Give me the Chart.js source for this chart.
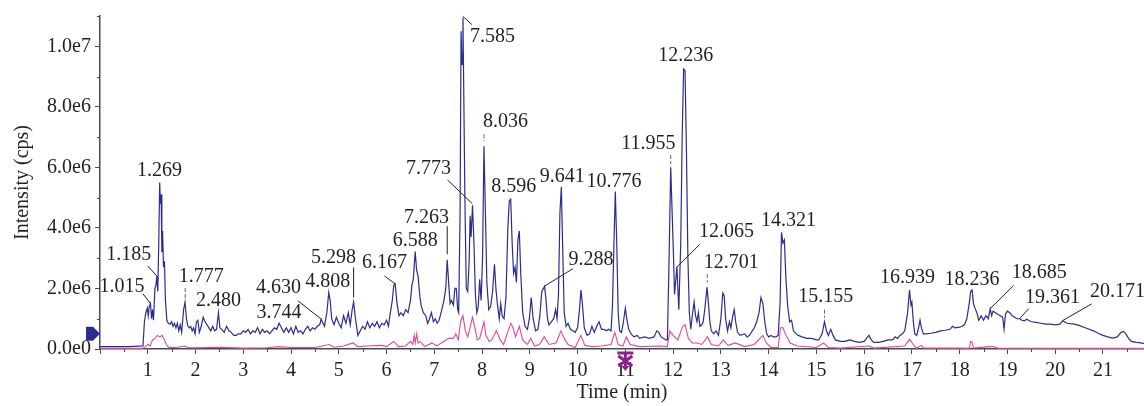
<!DOCTYPE html>
<html><head><meta charset="utf-8">
<script src="https://cdn.jsdelivr.net/npm/chart.js@4.4.0/dist/chart.umd.min.js"></script>
<style>html,body{margin:0;padding:0;background:#fff;}#wrap{width:1144px;height:406px;}</style>
</head><body><div id="wrap"><canvas id="c" width="1144" height="406"></canvas></div>
<script>
// ---- data (time in min, intensity in 1e6 cps) ----
const ticTrace = [
[0,0.08],[0.3,0.08],[0.6,0.08],[0.9,0.1],[0.93,0.9],[0.96,1.2],[0.99,1.35],[1.01,1.1],[1.03,1.4],[1.057,1.5],[1.08,1.0],[1.1,1.3],[1.12,0.95],[1.15,2.0],[1.17,2.1],[1.19,2.41],[1.21,1.9],[1.23,3.5],[1.25,5.5],[1.265,4.8],[1.28,5.1],[1.295,3.2],[1.31,3.9],[1.33,2.7],[1.35,2.9],[1.37,1.6],[1.4,0.95],[1.43,0.85],[1.47,0.82],[1.5,0.9],[1.53,0.75],[1.56,0.85],[1.59,0.7],[1.62,0.85],[1.65,0.6],[1.68,0.8],[1.71,0.55],[1.75,1.3],[1.78,1.55],[1.81,1.0],[1.84,0.75],[1.87,0.7],[1.9,0.75],[1.93,0.6],[1.96,0.7],[1.99,0.5],[2.02,0.9],[2.05,0.95],[2.08,0.55],[2.12,0.75],[2.16,1.05],[2.2,0.9],[2.24,0.8],[2.28,0.7],[2.32,0.6],[2.36,0.75],[2.4,0.6],[2.44,0.65],[2.48,1.2],[2.51,0.7],[2.55,0.65],[2.6,0.55],[2.65,0.75],[2.7,0.6],[2.75,0.55],[2.8,0.45],[2.85,0.45],[2.9,0.5],[2.95,0.5],[3.0,0.6],[3.05,0.55],[3.1,0.65],[3.15,0.5],[3.2,0.6],[3.25,0.55],[3.3,0.7],[3.35,0.5],[3.4,0.65],[3.45,0.55],[3.5,0.6],[3.55,0.5],[3.6,0.6],[3.65,0.7],[3.7,0.65],[3.75,0.85],[3.8,0.7],[3.85,0.55],[3.9,0.7],[3.95,0.55],[4.0,0.7],[4.05,0.5],[4.1,0.75],[4.15,0.55],[4.2,0.6],[4.25,0.5],[4.3,0.65],[4.35,0.75],[4.4,0.6],[4.45,0.7],[4.5,0.65],[4.55,0.75],[4.6,0.8],[4.63,0.98],[4.7,0.75],[4.75,1.2],[4.79,1.87],[4.82,1.6],[4.85,1.0],[4.9,0.8],[4.95,1.05],[5.0,0.85],[5.05,0.7],[5.1,1.1],[5.15,0.85],[5.2,1.2],[5.24,0.8],[5.28,1.3],[5.31,1.55],[5.35,1.0],[5.4,0.45],[5.45,0.6],[5.5,0.75],[5.55,0.65],[5.6,0.9],[5.65,0.7],[5.7,0.85],[5.75,0.75],[5.8,0.9],[5.85,0.7],[5.9,0.85],[5.95,0.8],[6.0,0.95],[6.04,0.75],[6.08,1.2],[6.12,1.6],[6.15,2.1],[6.18,2.15],[6.22,1.5],[6.26,1.1],[6.3,1.2],[6.35,1.1],[6.4,1.3],[6.45,1.2],[6.5,1.6],[6.53,2.1],[6.56,2.3],[6.6,3.22],[6.63,2.6],[6.66,2.4],[6.7,1.7],[6.73,1.4],[6.77,1.2],[6.82,1.1],[6.86,0.85],[6.9,1.0],[6.94,1.2],[6.98,0.9],[7.02,1.0],[7.06,0.85],[7.1,0.95],[7.15,1.25],[7.2,1.6],[7.24,2.0],[7.27,2.95],[7.3,2.2],[7.33,1.5],[7.36,1.6],[7.4,1.45],[7.43,2.0],[7.46,2.0],[7.49,1.3],[7.51,1.2],[7.54,4.5],[7.56,10.5],[7.58,9.4],[7.6,10.95],[7.62,8.0],[7.64,5.0],[7.67,2.0],[7.7,1.9],[7.73,2.9],[7.75,4.4],[7.77,3.7],[7.8,4.75],[7.83,3.5],[7.86,1.8],[7.89,1.2],[7.92,1.4],[7.95,2.3],[7.98,1.6],[8.01,3.0],[8.04,6.7],[8.07,4.5],[8.1,2.2],[8.14,1.3],[8.18,1.4],[8.22,1.9],[8.26,2.8],[8.29,2.0],[8.32,1.5],[8.36,1.0],[8.39,1.5],[8.42,1.1],[8.46,1.0],[8.5,1.7],[8.54,4.0],[8.57,4.9],[8.6,4.95],[8.63,3.5],[8.66,2.5],[8.69,2.7],[8.72,2.2],[8.75,3.6],[8.78,3.9],[8.81,2.5],[8.85,1.2],[8.9,0.75],[8.95,0.65],[8.99,1.0],[9.03,1.7],[9.07,1.0],[9.12,0.6],[9.17,0.65],[9.21,1.1],[9.25,1.9],[9.31,2.07],[9.34,1.6],[9.37,1.0],[9.4,0.8],[9.45,0.9],[9.5,1.0],[9.54,1.3],[9.57,1.0],[9.6,1.8],[9.63,4.5],[9.66,5.35],[9.69,3.2],[9.72,1.2],[9.76,0.75],[9.8,0.85],[9.85,0.65],[9.9,0.6],[9.95,0.55],[10.0,0.7],[10.04,1.3],[10.07,1.95],[10.1,1.5],[10.14,0.7],[10.2,0.45],[10.25,0.5],[10.3,0.75],[10.35,0.55],[10.4,0.75],[10.45,0.9],[10.5,0.65],[10.55,0.65],[10.6,0.6],[10.65,0.65],[10.7,0.6],[10.73,1.4],[10.76,3.4],[10.79,5.2],[10.82,3.5],[10.85,1.2],[10.88,0.6],[10.92,0.55],[10.96,0.9],[11.0,1.35],[11.03,1.0],[11.07,0.65],[11.12,0.5],[11.18,0.4],[11.25,0.45],[11.3,0.35],[11.4,0.4],[11.5,0.35],[11.6,0.4],[11.66,0.6],[11.7,0.55],[11.75,0.4],[11.8,0.35],[11.85,0.3],[11.88,0.3],[11.91,2.5],[11.95,6.0],[11.98,4.5],[12.01,3.0],[12.03,1.8],[12.08,2.72],[12.1,2.0],[12.12,1.3],[12.16,3.5],[12.19,7.0],[12.22,9.25],[12.25,9.2],[12.28,6.5],[12.31,3.0],[12.34,1.2],[12.37,0.65],[12.41,1.2],[12.44,1.55],[12.47,1.1],[12.5,0.9],[12.53,1.2],[12.56,0.75],[12.6,0.8],[12.63,0.9],[12.67,1.4],[12.71,2.05],[12.74,1.5],[12.77,0.9],[12.8,0.6],[12.85,0.5],[12.9,0.6],[12.95,0.45],[13.0,1.0],[13.04,1.85],[13.07,1.75],[13.1,1.0],[13.14,0.6],[13.18,0.9],[13.21,0.7],[13.25,1.1],[13.28,1.3],[13.31,0.9],[13.35,0.55],[13.4,0.45],[13.5,0.5],[13.55,0.4],[13.6,0.45],[13.7,0.7],[13.75,0.9],[13.8,1.2],[13.84,1.7],[13.88,1.5],[13.92,0.9],[13.96,0.5],[14.0,0.4],[14.05,0.45],[14.1,0.4],[14.15,0.4],[14.2,0.45],[14.24,1.5],[14.27,3.85],[14.3,3.5],[14.33,3.6],[14.36,2.4],[14.4,1.4],[14.44,0.9],[14.48,0.95],[14.52,0.6],[14.58,0.5],[14.62,0.45],[14.7,0.4],[14.8,0.35],[14.9,0.35],[15.0,0.3],[15.05,0.3],[15.12,0.5],[15.17,0.9],[15.21,0.6],[15.25,0.45],[15.3,0.65],[15.35,0.45],[15.4,0.3],[15.5,0.25],[15.6,0.25],[15.7,0.3],[15.8,0.25],[15.9,0.22],[16.0,0.25],[16.05,0.35],[16.1,0.45],[16.15,0.3],[16.2,0.22],[16.3,0.22],[16.4,0.25],[16.5,0.3],[16.6,0.3],[16.65,0.4],[16.7,0.35],[16.75,0.45],[16.8,0.5],[16.85,0.6],[16.91,1.2],[16.95,1.95],[16.98,1.45],[17.0,1.55],[17.03,0.9],[17.06,0.5],[17.1,0.45],[17.14,0.7],[17.17,0.95],[17.2,0.7],[17.24,0.5],[17.3,0.5],[17.4,0.52],[17.5,0.55],[17.6,0.6],[17.7,0.62],[17.8,0.65],[17.85,0.75],[17.9,0.7],[18.0,0.72],[18.05,0.75],[18.1,0.8],[18.15,1.0],[18.2,1.5],[18.23,1.9],[18.26,1.95],[18.29,1.5],[18.32,1.35],[18.36,1.2],[18.4,0.95],[18.45,1.1],[18.5,0.95],[18.55,1.1],[18.6,1.0],[18.64,1.33],[18.67,1.1],[18.7,1.25],[18.75,1.2],[18.8,1.15],[18.85,1.1],[18.9,1.05],[18.93,0.65],[18.96,1.15],[19.0,1.25],[19.05,1.2],[19.1,1.1],[19.15,1.05],[19.2,1.0],[19.26,1.0],[19.3,0.95],[19.36,0.93],[19.4,0.98],[19.5,0.9],[19.6,0.88],[19.7,0.85],[19.8,0.82],[19.9,0.82],[20.0,0.8],[20.1,0.82],[20.16,0.93],[20.25,0.85],[20.4,0.82],[20.5,0.78],[20.6,0.72],[20.7,0.66],[20.8,0.6],[20.9,0.52],[21.0,0.45],[21.1,0.4],[21.2,0.36],[21.3,0.4],[21.38,0.55],[21.43,0.58],[21.48,0.5],[21.55,0.32],[21.6,0.25],[21.7,0.22],[21.8,0.2],[21.86,0.18]
];
const ricTrace = [
[0,0.02],[0.9,0.02],[0.95,0.08],[1.0,0.15],[1.05,0.1],[1.1,0.3],[1.15,0.35],[1.2,0.45],[1.25,0.4],[1.3,0.45],[1.35,0.3],[1.4,0.12],[1.45,0.05],[1.6,0.05],[1.7,0.08],[1.78,0.1],[1.85,0.04],[2.0,0.04],[2.5,0.06],[3.0,0.03],[3.5,0.04],[3.75,0.08],[4.0,0.05],[4.5,0.05],[4.8,0.15],[4.9,0.06],[5.1,0.1],[5.3,0.2],[5.4,0.08],[5.6,0.1],[5.9,0.12],[6.0,0.08],[6.15,0.25],[6.25,0.08],[6.4,0.1],[6.5,0.25],[6.55,0.15],[6.58,0.45],[6.6,0.2],[6.63,0.5],[6.66,0.2],[6.7,0.25],[6.8,0.08],[6.95,0.2],[7.05,0.1],[7.2,0.25],[7.3,0.35],[7.4,0.35],[7.45,0.5],[7.5,0.3],[7.55,0.9],[7.6,1.1],[7.65,0.6],[7.7,0.4],[7.8,1.05],[7.85,0.7],[7.9,0.3],[7.95,0.35],[8.04,0.9],[8.08,0.45],[8.15,0.25],[8.2,0.3],[8.3,0.6],[8.38,0.3],[8.45,0.15],[8.6,0.85],[8.65,0.7],[8.7,0.4],[8.78,0.75],[8.85,0.3],[8.95,0.15],[9.02,0.35],[9.1,0.1],[9.2,0.15],[9.3,0.4],[9.4,0.15],[9.55,0.2],[9.65,0.6],[9.72,0.35],[9.8,0.15],[9.95,0.05],[10.07,0.45],[10.15,0.12],[10.3,0.08],[10.5,0.1],[10.7,0.15],[10.78,0.55],[10.85,0.15],[10.95,0.1],[11.02,0.4],[11.1,0.15],[11.3,0.08],[11.7,0.1],[11.88,0.08],[11.93,0.6],[12.0,0.45],[12.1,0.3],[12.2,0.75],[12.25,0.8],[12.32,0.35],[12.4,0.2],[12.5,0.2],[12.6,0.15],[12.72,0.4],[12.8,0.15],[12.95,0.1],[13.05,0.3],[13.15,0.12],[13.3,0.2],[13.5,0.08],[13.7,0.15],[13.88,0.45],[13.95,0.2],[14.05,0.05],[14.2,0.05],[14.25,0.7],[14.3,0.7],[14.35,0.5],[14.45,0.2],[14.6,0.1],[15.0,0.05],[15.15,0.2],[15.25,0.05],[15.5,0.03],[16.1,0.1],[16.2,0.03],[16.85,0.1],[16.95,0.32],[17.05,0.1],[17.1,0.03],[17.2,0.12],[17.25,0.03],[18.0,0.03],[18.2,0.02],[18.23,0.25],[18.26,0.22],[18.29,0.03],[18.6,0.08],[18.7,0.08],[18.8,0.03],[21.86,0.02]
];
const peakLabels  = ['1.015','1.185','1.269','1.777','2.480','3.744','4.630','4.808','5.298','6.167','6.588','7.263','7.585','7.773','8.036','8.596','9.288','9.641','10.776','11.955','12.065','12.236','12.701','14.321','15.155','16.939','18.236','18.685','19.361','20.171'];
const peakTimes   = [1.057,1.19,1.246,1.784,2.48,3.75,4.63,4.79,5.31,6.18,6.60,7.27,7.598,7.795,8.04,8.60,9.31,9.66,10.79,11.95,12.08,12.24,12.716,14.27,15.17,16.95,18.26,18.64,19.256,20.16];
const peakHeights = [1.50,2.41,5.48,1.55,1.2,0.85,0.99,1.87,1.55,2.15,3.22,2.93,10.99,4.8,6.7,4.96,2.08,5.34,5.18,6.0,2.71,9.25,2.03,3.82,0.89,1.95,1.94,1.33,1.0,0.94];
const xTickValues = [0,1,2,3,4,5,6,7,8,9,10,11,12,13,14,15,16,17,18,19,20,21];
const yTickValues = [0,2e6,4e6,6e6,8e6,1e7];

// ---- layout of peak labels (pixel offsets from the peak anchor) ----
const labelLayout = [
 {dx:-28.5,dy:-17,line:[-7.7,-10]},{dx:-28,dy:-21,line:[-9,-10]},{dx:0,dy:-12.5},{dx:16,dy:-25,dash:[-14,-4]},
 {dx:0,dy:-11.5},{dx:0,dy:-11},{dx:-42.7,dy:-31.6,line:[-23.4,-18.3]},{dx:-1,dy:-10.5},
 {dx:-20,dy:-44.7,vline:[-34.7,-4.7]},{dx:-10.7,dy:-21.3,line:[-10.7,-8]},{dx:0,dy:-10.8},{dx:-20.7,dy:-43,vline:[-34,-6]},
 {dx:29.7,dy:20,line:[9,8.3]},{dx:-43.7,dy:-35,line:[-24.7,-23.7]},{dx:21.4,dy:-24.7,dash:[-12,-5]},{dx:3,dy:-12.4},
 {dx:46.3,dy:-26.7,line:[28.3,-17.3]},{dx:0.8,dy:-10.7},{dx:-1.2,dy:-10.7},{dx:-22.3,dy:-23.3,dash:[-12.3,-3.3]},
 {dx:49.7,dy:-35.7,line:[22.7,-22.4]},{dx:1.3,dy:-13.3},{dx:24,dy:-25,dash:[-13.4,-5]},{dx:7.1,dy:-12.7},
 {dx:1.3,dy:-25,dash:[-12.4,-4.4]},{dx:-2,dy:-12.3},{dx:0,dy:-11},{dx:49,dy:-35.6,line:[23.3,-23.3]},
 {dx:32.8,dy:-20.6,line:[9,-10]},{dx:54.7,dy:-29,line:[29,-16.7]}
];

const FONT = '"Liberation Serif", "DejaVu Serif", serif';
const TXT = '#231f20', AXIS = '#4a4a4a', BLUE = '#2b2d8e', PINK = '#e2479b', PURPLE = '#8e1f8e';

const overlay = {
  id: 'overlay',
  afterDraw(chart) {
    const {ctx, chartArea: a, scales: {x, y}} = chart;
    ctx.save();
    // minor ticks (halfway between major ticks)
    ctx.strokeStyle = AXIS; ctx.lineWidth = 1;
    ctx.beginPath();
    for (let i = 0; i < xTickValues.length; i++) {
      const t = xTickValues[i] + 0.5; if (t > x.max) break;
      const px = Math.round(x.getPixelForValue(t)) + 0.5;
      ctx.moveTo(px, a.bottom); ctx.lineTo(px, a.bottom + 3);
    }
    for (let i = 0; i < yTickValues.length; i++) {
      const v = yTickValues[i] + 1e6; if (v > y.max) break;
      const py = Math.round(y.getPixelForValue(v)) + 0.5;
      ctx.moveTo(a.left, py); ctx.lineTo(a.left - 3, py);
    }
    ctx.stroke();
    // peak labels
    ctx.font = '20px ' + FONT; ctx.fillStyle = TXT; ctx.textAlign = 'center'; ctx.textBaseline = 'middle';
    peakLabels.forEach((lab, i) => {
      const ax = x.getPixelForValue(peakTimes[i]), ay = y.getPixelForValue(peakHeights[i] * 1e6);
      const L = labelLayout[i];
      ctx.fillText(lab, ax + L.dx, ay + L.dy);
      ctx.strokeStyle = TXT; ctx.lineWidth = 1; ctx.setLineDash([]);
      if (L.line) { ctx.beginPath(); ctx.moveTo(ax + L.line[0], ay + L.line[1]); ctx.lineTo(ax, ay); ctx.stroke(); }
      if (L.vline) { ctx.beginPath(); ctx.moveTo(ax, ay + L.vline[0]); ctx.lineTo(ax, ay + L.vline[1]); ctx.stroke(); }
      if (L.dash) { ctx.strokeStyle = '#666'; ctx.setLineDash([4, 2]); ctx.beginPath(); ctx.moveTo(ax, ay + L.dash[0]); ctx.lineTo(ax, ay + L.dash[1]); ctx.stroke(); ctx.setLineDash([]); }
    });
    // arrow marker on y axis
    const my = y.getPixelForValue(0.5e6);
    ctx.fillStyle = BLUE; ctx.beginPath();
    ctx.moveTo(a.left - 14, my - 7); ctx.lineTo(a.left - 7, my - 7);
    ctx.lineTo(a.left, my); ctx.lineTo(a.left - 7, my + 7); ctx.lineTo(a.left - 14, my + 7);
    ctx.closePath(); ctx.fill();
    // purple marker under x axis
    const sx = x.getPixelForValue(11), sy = a.bottom + 12;
    ctx.strokeStyle = PURPLE; ctx.fillStyle = PURPLE; ctx.lineWidth = 3;
    ctx.beginPath();
    ctx.moveTo(sx, sy - 8); ctx.lineTo(sx, sy + 7);
    ctx.moveTo(sx - 7, sy - 5); ctx.lineTo(sx + 7, sy + 5);
    ctx.moveTo(sx + 7, sy - 5); ctx.lineTo(sx - 7, sy + 5);
    ctx.moveTo(sx - 8, sy - 8); ctx.lineTo(sx + 8, sy - 8);
    ctx.stroke();
    ctx.beginPath(); ctx.moveTo(sx - 4, sy + 5); ctx.lineTo(sx + 4, sy + 5); ctx.lineTo(sx, sy + 10); ctx.closePath(); ctx.fill();
    ctx.restore();
  }
};

new Chart(document.getElementById('c'), {
  type: 'line',
  data: {
    datasets: [
      {data: ticTrace.map(([t, v]) => ({x: t, y: v * 1e6})), borderColor: BLUE, borderWidth: 1.2, pointRadius: 0, tension: 0, fill: false},
      {data: ricTrace.map(([t, v]) => ({x: t, y: v * 1e6})), borderColor: PINK, borderWidth: 1.1, pointRadius: 0, tension: 0, fill: false}
    ]
  },
  options: {
    responsive: false, animation: false, devicePixelRatio: 1,
    layout: {padding: {top: 11, right: 0, bottom: 0, left: 0}},
    plugins: {legend: {display: false}, tooltip: {enabled: false}},
    scales: {
      x: {
        type: 'linear', min: 0, max: 21.86,
        afterFit: s => { s.height = 57; },
        afterBuildTicks: s => { s.ticks = xTickValues.map(v => ({value: v})); },
        ticks: {autoSkip: false, maxRotation: 0, padding: 5,
          color: TXT, font: {family: FONT, size: 20}, callback: v => v === 0 ? '' : String(v)},
        grid: {display: true, drawOnChartArea: false, drawTicks: true, tickLength: 5, tickColor: AXIS, tickWidth: 1},
        border: {display: true, color: AXIS, width: 1.5},
        title: {display: true, text: 'Time (min)', color: TXT, font: {family: FONT, size: 20}, padding: {top: 0, bottom: 1}}
      },
      y: {
        min: 0, max: 11e6,
        afterFit: s => { s.width = 100; },
        afterBuildTicks: s => { s.ticks = yTickValues.map(v => ({value: v})); },
        ticks: {autoSkip: false, padding: 4, color: TXT, font: {family: FONT, size: 20},
          callback: v => Number(v).toExponential(1).replace('+', '')},
        grid: {display: true, drawOnChartArea: false, drawTicks: true, tickLength: 5, tickColor: AXIS, tickWidth: 1},
        border: {display: true, color: AXIS, width: 1.5},
        title: {display: true, text: 'Intensity (cps)', color: TXT, font: {family: FONT, size: 20}, padding: {top: 11, bottom: 0}}
      }
    }
  },
  plugins: [overlay]
});
</script></body></html>
